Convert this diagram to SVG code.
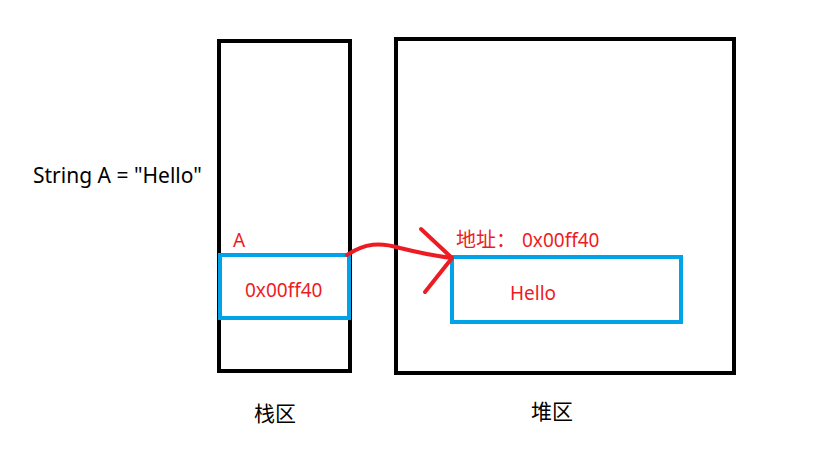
<svg xmlns="http://www.w3.org/2000/svg" width="815" height="461" viewBox="0 0 815 461">
<style>
.box{fill:none;stroke:#000;stroke-width:4}
.cell{fill:none;stroke:#00a2e8;stroke-width:4}
.t{font-family:"Noto Sans","Noto Sans CJK SC",sans-serif;font-size:19px}
.r{fill:#ed1c24}
.k{fill:#000}
.cjk{font-family:"Noto Sans CJK SC",sans-serif;font-size:20px}
</style>
<rect width="815" height="461" fill="#fff"/>
<g id="stack">
<rect class="box" x="219" y="41" width="131" height="330"/>
<text class="cjk k" x="254" y="421" style="font-size:21px">栈区</text>
</g>
<g id="heap">
<rect class="box" x="396" y="39" width="338" height="334"/>
<text class="cjk k" x="531" y="419" style="font-size:21px">堆区</text>
</g>
<g id="stack-cell">
<rect class="cell" x="220" y="255" width="129" height="63"/>
<text class="t r" x="233" y="247">A</text>
<text class="t r" x="245" y="297">0x00ff40</text>
</g>
<g id="heap-cell">
<rect class="cell" x="452" y="257" width="229" height="65"/>
<text class="t r" x="456" y="247"><tspan class="cjk">地址：</tspan><tspan x="522">0x00ff40</tspan></text>
<text class="t r" x="510" y="300">Hello</text>
</g>
<g id="code">
<text class="t k" x="33" y="183" style="font-size:21px">String A = "Hello"</text>
</g>
<g id="connectors" fill="none" stroke="#ed1c24" stroke-width="4" stroke-linecap="round" stroke-linejoin="round">
<path d="M347,255 C365,243 380,242 400,248 C420,253 435,256 452,258"/>
<path d="M421,229 L452,258 L425,292"/>
</g>
</svg>
